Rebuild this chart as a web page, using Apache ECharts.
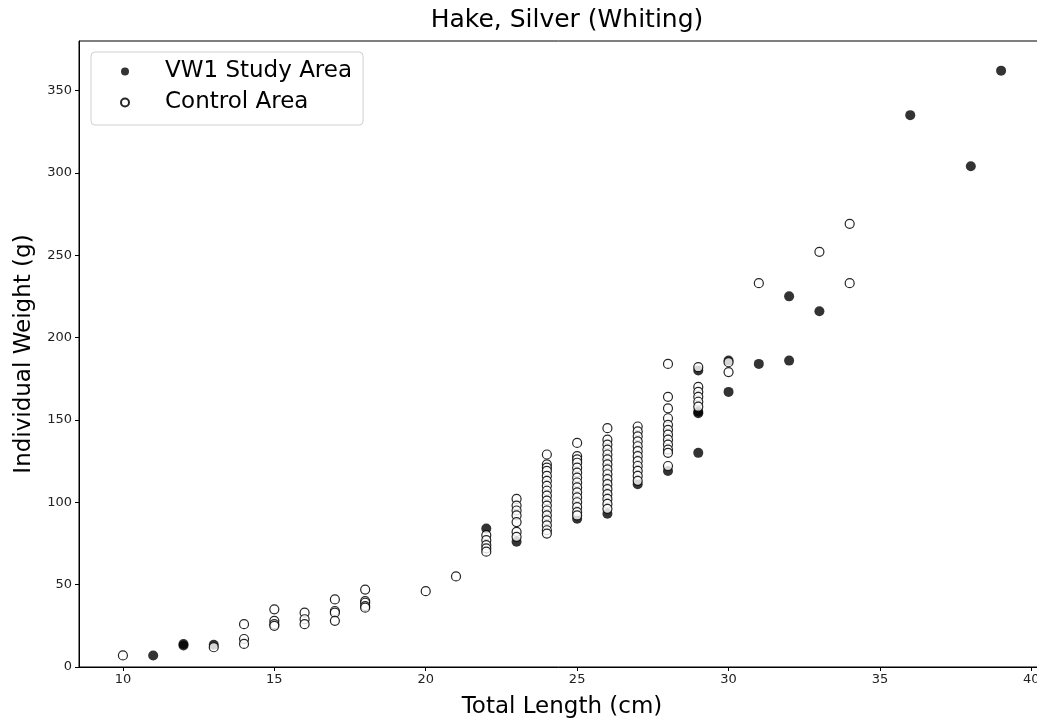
<!DOCTYPE html>
<html>
<head>
<meta charset="utf-8">
<script src="https://cdn.jsdelivr.net/npm/echarts@6/dist/echarts.min.js"></script>
<style>
html,body{margin:0;padding:0;background:#fff;}
#chart{width:1037px;height:723px;}
</style>
</head>
<body>
<div id="chart"></div>
<script>
// ---- data ----
var titleText = 'Hake, Silver (Whiting)';
var xAxisTitle = 'Total Length (cm)';
var yAxisTitle = 'Individual Weight (g)';
var seriesNames = ['VW1 Study Area', 'Control Area'];
var xTicks = [10, 15, 20, 25, 30, 35, 40];
var yTicks = [0, 50, 100, 150, 200, 250, 300, 350];

var vw1Length = [11, 12, 12, 13, 22, 23, 25, 26, 27, 28, 29, 29, 29, 29, 30, 30, 31, 32, 32, 33, 36, 38, 39];
var vw1Weight = [7, 13, 14, 13.5, 84, 76, 90, 93, 111, 119, 180, 155, 154, 130, 186, 167, 184, 225, 186, 216, 335, 304, 362];

var ctrlLength = [
  10, 13,
  14, 14, 14,
  15, 15, 15, 15,
  16, 16, 16,
  17, 17, 17, 17,
  18, 18, 18, 18, 18,
  20, 21,
  22, 22, 22, 22, 22,
  23, 23, 23, 23, 23, 23, 23,
  24, 24, 24, 24, 24, 24, 24, 24, 24, 24, 24, 24, 24, 24, 24, 24, 24,
  25, 25, 25, 25, 25, 25, 25, 25, 25, 25, 25, 25, 25, 25, 25,
  26, 26, 26, 26, 26, 26, 26, 26, 26, 26, 26, 26, 26, 26, 26, 26,
  27, 27, 27, 27, 27, 27, 27, 27, 27, 27, 27, 27,
  28, 28, 28, 28, 28, 28, 28, 28, 28, 28, 28, 28,
  29, 29, 29, 29, 29, 29,
  30, 30,
  31, 33, 34, 34
];
var ctrlWeight = [
  7, 12,
  26, 17, 14,
  35, 28, 26, 25,
  33, 29, 26,
  41, 34, 33, 28,
  47, 40, 39, 37, 36,
  46, 55,
  80, 77, 74, 72, 70,
  102, 98, 95, 92, 88, 82, 79,
  129, 123, 121, 119, 116, 113, 110, 107, 104, 101, 98, 95, 92, 89, 86, 83, 81,
  136, 128, 126, 124, 121, 118, 115, 112, 109, 106, 103, 100, 97, 94, 92,
  145, 138, 135, 132, 129, 126, 123, 120, 117, 114, 111, 108, 105, 102, 99, 96,
  146, 143, 140, 137, 134, 131, 128, 125, 122, 119, 116, 113,
  184, 164, 157, 151, 147, 144, 141, 138, 135, 132, 130, 122,
  182, 170, 167, 164, 161, 158,
  185, 179,
  233, 252, 269, 233
];

function pairs(xs, ys) {
  var out = [];
  for (var i = 0; i < xs.length; i++) out.push([xs[i], ys[i]]);
  return out;
}

var FONT = 'DejaVu Sans';
var chart = echarts.init(document.getElementById('chart'), null, {renderer: 'canvas'});
var option = {
  backgroundColor: '#ffffff',
  animation: false,
  textStyle: {fontFamily: FONT},
  title: {
    text: titleText,
    left: 562,
    textAlign: 'center',
    top: 3,
    textStyle: {fontFamily: FONT, fontSize: 25, fontWeight: 'normal', color: '#000'}
  },
  grid: {
    left: 79, top: 41, width: 966, height: 626,
    outerBoundsMode: 'none',
    containLabel: false,
    show: true, borderColor: '#000', borderWidth: 1, backgroundColor: 'transparent'
  },
  legend: {
    orient: 'vertical',
    left: 91, top: 52,
    padding: [8, 11, 11, 29],
    itemWidth: 8, itemHeight: 8,
    itemGap: 8,
    icon: 'circle',
    backgroundColor: '#fff',
    borderColor: '#d0d0d0',
    borderWidth: 1,
    borderRadius: 4,
    textStyle: {fontFamily: FONT, fontSize: 23, color: '#000', lineHeight: 23, padding: [0, 0, 0, 31]},
    data: seriesNames
  },
  xAxis: {
    type: 'value',
    min: 8.55, max: 40.45,
    name: xAxisTitle,
    nameLocation: 'middle',
    nameGap: 29,
    nameTextStyle: {fontFamily: FONT, fontSize: 23, color: '#000'},
    axisLine: {show: true, onZero: false, lineStyle: {color: '#000', width: 1}},
    axisTick: {show: true, length: 4, customValues: xTicks, lineStyle: {color: '#000'}},
    axisLabel: {customValues: xTicks, fontFamily: FONT, fontSize: 13, color: '#222', margin: 6},
    splitLine: {show: false}
  },
  yAxis: {
    type: 'value',
    min: 0, max: 380,
    name: yAxisTitle,
    nameLocation: 'middle',
    nameGap: 43,
    nameTextStyle: {fontFamily: FONT, fontSize: 23, color: '#000'},
    axisLine: {show: true, onZero: false, lineStyle: {color: '#000', width: 1}},
    axisTick: {show: true, length: 4, customValues: yTicks, lineStyle: {color: '#000'}},
    axisLabel: {customValues: yTicks, fontFamily: FONT, fontSize: 13, color: '#222', margin: 7},
    splitLine: {show: false}
  },
  series: [
    {
      name: seriesNames[0],
      type: 'scatter',
      symbol: 'circle',
      symbolSize: 10,
      itemStyle: {color: 'rgba(0,0,0,0.8)', borderWidth: 0, opacity: 1},
      data: pairs(vw1Length, vw1Weight),
      z: 2
    },
    {
      name: seriesNames[1],
      type: 'scatter',
      symbol: 'circle',
      symbolSize: 9,
      itemStyle: {color: 'rgba(255,255,255,0.8)', borderColor: 'rgba(0,0,0,0.85)', borderWidth: 1.2, opacity: 1},
      data: pairs(ctrlLength, ctrlWeight),
      z: 3
    }
  ]
};
chart.setOption(option);
</script>
</body>
</html>
